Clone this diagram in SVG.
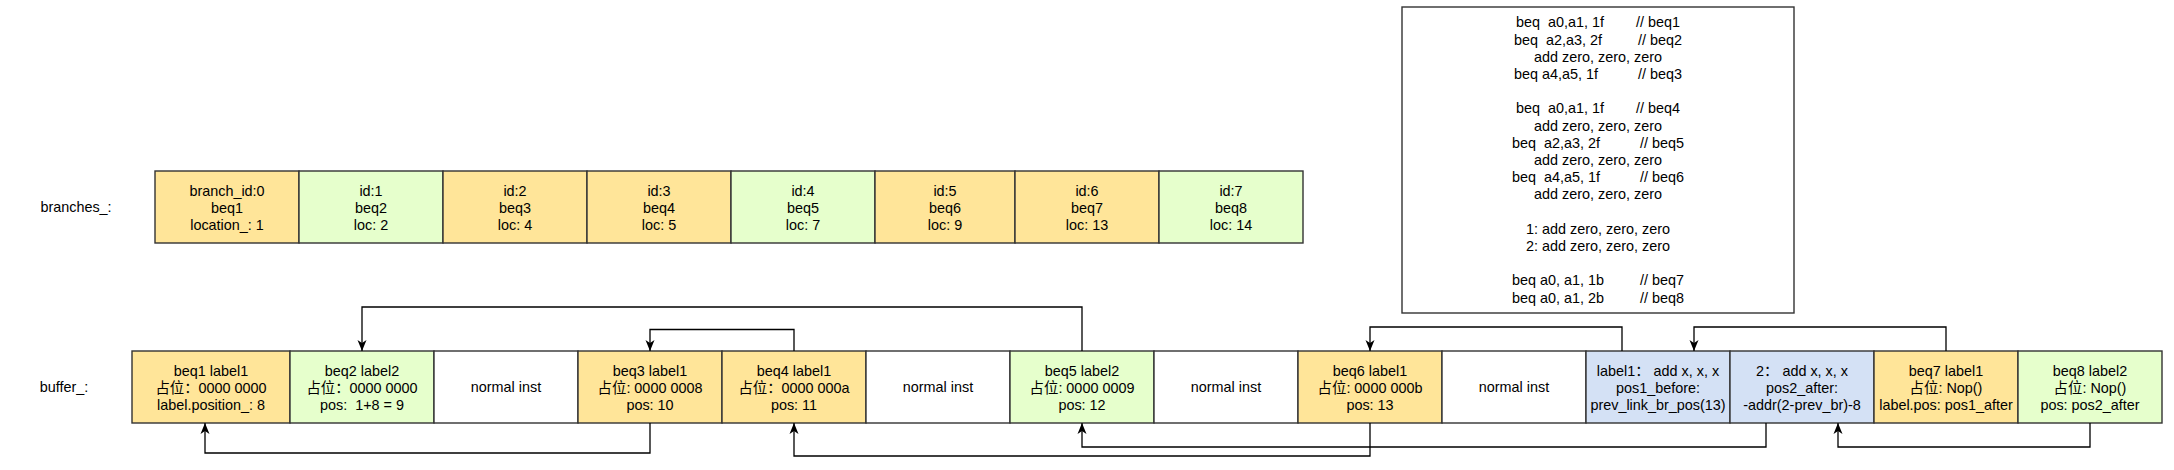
<svg xmlns="http://www.w3.org/2000/svg" width="2174" height="470" viewBox="0 0 2174 470">
<style>
text{font-family:"Liberation Sans","Noto Sans CJK SC",sans-serif;font-size:14.4px;fill:#000;text-anchor:middle}
.c{stroke:#333;stroke-width:1.4}
.o{fill:#FFE599}
.g{fill:#E6FFCC}
.b{fill:#D4E1F5}
.w{fill:#FFFFFF}
.e{fill:none;stroke:#000;stroke-width:1.3}
</style>
<defs>
<marker id="ar" markerUnits="userSpaceOnUse" markerWidth="12" markerHeight="12" viewBox="0 0 12 12" refX="11" refY="6" orient="auto">
<path d="M0,1.5 L11,6 L0,10.5 L3,6 z" fill="#000"/>
</marker>
</defs>
<rect width="2174" height="470" fill="#fff"/>
<text x="76" y="212">branches_:</text>
<text x="64" y="392">buffer_:</text>

<g id="code">
<rect x="1402" y="7" width="392" height="306" fill="#fff" stroke="#333" stroke-width="1.4"/>
<text xml:space="preserve" x="1598" y="27.3">beq  a0,a1, 1f        // beq1</text>
<text xml:space="preserve" x="1598" y="44.5">beq  a2,a3, 2f         // beq2</text>
<text xml:space="preserve" x="1598" y="61.7">add zero, zero, zero</text>
<text xml:space="preserve" x="1598" y="78.9">beq a4,a5, 1f          // beq3</text>
<text xml:space="preserve" x="1598" y="113.3">beq  a0,a1, 1f        // beq4</text>
<text xml:space="preserve" x="1598" y="130.5">add zero, zero, zero</text>
<text xml:space="preserve" x="1598" y="147.7">beq  a2,a3, 2f          // beq5</text>
<text xml:space="preserve" x="1598" y="164.9">add zero, zero, zero</text>
<text xml:space="preserve" x="1598" y="182.1">beq  a4,a5, 1f          // beq6</text>
<text xml:space="preserve" x="1598" y="199.3">add zero, zero, zero</text>
<text xml:space="preserve" x="1598" y="233.7">1: add zero, zero, zero</text>
<text xml:space="preserve" x="1598" y="250.9">2: add zero, zero, zero</text>
<text xml:space="preserve" x="1598" y="285.3">beq a0, a1, 1b         // beq7</text>
<text xml:space="preserve" x="1598" y="302.5">beq a0, a1, 2b         // beq8</text>
</g>

<g id="br0"><rect class="c o" x="155" y="171" width="144" height="72"/><text x="227" y="195.5">branch_id:0</text><text x="227" y="212.5">beq1</text><text x="227" y="229.5">location_: 1</text></g>
<g id="br1"><rect class="c g" x="299" y="171" width="144" height="72"/><text x="371" y="195.5">id:1</text><text x="371" y="212.5">beq2</text><text x="371" y="229.5">loc: 2</text></g>
<g id="br2"><rect class="c o" x="443" y="171" width="144" height="72"/><text x="515" y="195.5">id:2</text><text x="515" y="212.5">beq3</text><text x="515" y="229.5">loc: 4</text></g>
<g id="br3"><rect class="c o" x="587" y="171" width="144" height="72"/><text x="659" y="195.5">id:3</text><text x="659" y="212.5">beq4</text><text x="659" y="229.5">loc: 5</text></g>
<g id="br4"><rect class="c g" x="731" y="171" width="144" height="72"/><text x="803" y="195.5">id:4</text><text x="803" y="212.5">beq5</text><text x="803" y="229.5">loc: 7</text></g>
<g id="br5"><rect class="c o" x="875" y="171" width="140" height="72"/><text x="945" y="195.5">id:5</text><text x="945" y="212.5">beq6</text><text x="945" y="229.5">loc: 9</text></g>
<g id="br6"><rect class="c o" x="1015" y="171" width="144" height="72"/><text x="1087" y="195.5">id:6</text><text x="1087" y="212.5">beq7</text><text x="1087" y="229.5">loc: 13</text></g>
<g id="br7"><rect class="c g" x="1159" y="171" width="144" height="72"/><text x="1231" y="195.5">id:7</text><text x="1231" y="212.5">beq8</text><text x="1231" y="229.5">loc: 14</text></g>

<g id="bf1"><rect class="c o" x="132" y="351" width="158" height="72"/><text x="211" y="375.5">beq1 label1</text><text x="211" y="392.5">占位：0000 0000</text><text x="211" y="409.5">label.position_: 8</text></g>
<g id="bf2"><rect class="c g" x="290" y="351" width="144" height="72"/><text x="362" y="375.5">beq2 label2</text><text x="362" y="392.5">占位：0000 0000</text><text xml:space="preserve" x="362" y="409.5">pos:  1+8 = 9</text></g>
<g id="bf3"><rect class="c w" x="434" y="351" width="144" height="72"/><text x="506" y="392">normal inst</text></g>
<g id="bf4"><rect class="c o" x="578" y="351" width="144" height="72"/><text x="650" y="375.5">beq3 label1</text><text x="650" y="392.5">占位: 0000 0008</text><text x="650" y="409.5">pos: 10</text></g>
<g id="bf5"><rect class="c o" x="722" y="351" width="144" height="72"/><text x="794" y="375.5">beq4 label1</text><text x="794" y="392.5">占位：0000 000a</text><text x="794" y="409.5">pos: 11</text></g>
<g id="bf6"><rect class="c w" x="866" y="351" width="144" height="72"/><text x="938" y="392">normal inst</text></g>
<g id="bf7"><rect class="c g" x="1010" y="351" width="144" height="72"/><text x="1082" y="375.5">beq5 label2</text><text x="1082" y="392.5">占位: 0000 0009</text><text x="1082" y="409.5">pos: 12</text></g>
<g id="bf8"><rect class="c w" x="1154" y="351" width="144" height="72"/><text x="1226" y="392">normal inst</text></g>
<g id="bf9"><rect class="c o" x="1298" y="351" width="144" height="72"/><text x="1370" y="375.5">beq6 label1</text><text x="1370" y="392.5">占位: 0000 000b</text><text x="1370" y="409.5">pos: 13</text></g>
<g id="bf10"><rect class="c w" x="1442" y="351" width="144" height="72"/><text x="1514" y="392">normal inst</text></g>
<g id="bf11"><rect class="c b" x="1586" y="351" width="144" height="72"/><text x="1658" y="375.5">label1： add x, x, x</text><text x="1658" y="392.5">pos1_before:</text><text x="1658" y="409.5">prev_link_br_pos(13)</text></g>
<g id="bf12"><rect class="c b" x="1730" y="351" width="144" height="72"/><text x="1802" y="375.5">2： add x, x, x</text><text x="1802" y="392.5">pos2_after:</text><text x="1802" y="409.5">-addr(2-prev_br)-8</text></g>
<g id="bf13"><rect class="c o" x="1874" y="351" width="144" height="72"/><text x="1946" y="375.5">beq7 label1</text><text x="1946" y="392.5">占位: Nop()</text><text x="1946" y="409.5">label.pos: pos1_after</text></g>
<g id="bf14"><rect class="c g" x="2018" y="351" width="144" height="72"/><text x="2090" y="375.5">beq8 label2</text><text x="2090" y="392.5">占位: Nop()</text><text x="2090" y="409.5">pos: pos2_after</text></g>

<g id="connectors">
<path class="e" d="M1082,351 V307 H362 V351" marker-end="url(#ar)"/>
<path class="e" d="M794,351 V329.5 H650 V351" marker-end="url(#ar)"/>
<path class="e" d="M650,423 V453 H205 V423" marker-end="url(#ar)"/>
<path class="e" d="M1370,423 V456 H794 V423" marker-end="url(#ar)"/>
<path class="e" d="M1766,423 V447 H1082 V423" marker-end="url(#ar)"/>
<path class="e" d="M2090,423 V447 H1838 V423" marker-end="url(#ar)"/>
<path class="e" d="M1946,351 V327 H1694 V351" marker-end="url(#ar)"/>
<path class="e" d="M1622,351 V327 H1370 V351" marker-end="url(#ar)"/>
</g>
</svg>
